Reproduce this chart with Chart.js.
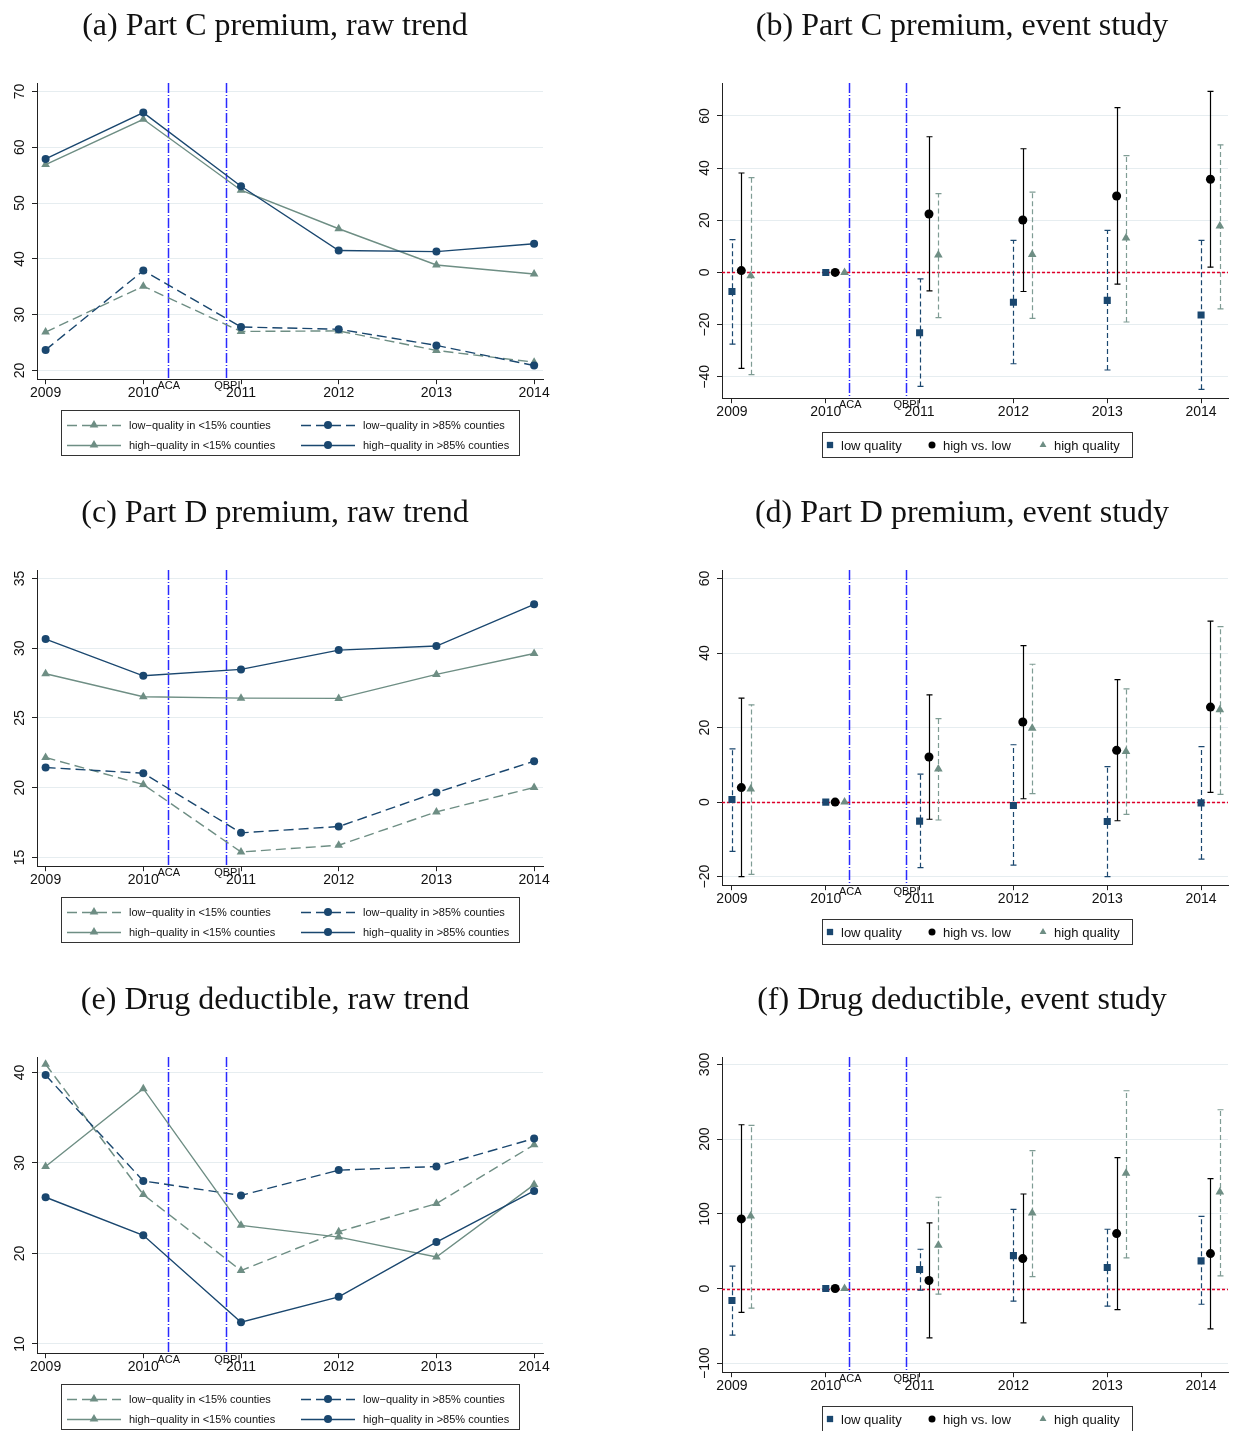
<!DOCTYPE html>
<html>
<head>
<meta charset="utf-8">
<script src="https://cdn.jsdelivr.net/npm/chart.js@4.4.1/dist/chart.umd.min.js"></script>
<style>
html, body { margin: 0; padding: 0; background: #fff; overflow: hidden; }
#wrap { position: relative; width: 1233px; height: 1431px; overflow: hidden; }
canvas { position: absolute; }
</style>
</head>
<body>
<div id="wrap">
  <canvas id="chartA" width="616" height="487" style="left:0;top:0"></canvas>
  <canvas id="chartB" width="617" height="487" style="left:616px;top:0"></canvas>
  <canvas id="chartC" width="616" height="487" style="left:0;top:487px"></canvas>
  <canvas id="chartD" width="617" height="487" style="left:616px;top:487px"></canvas>
  <canvas id="chartE" width="616" height="487" style="left:0;top:974px"></canvas>
  <canvas id="chartF" width="617" height="487" style="left:616px;top:974px"></canvas>
</div>
<script>
// ---- data ----
const years = [2009, 2010, 2011, 2012, 2013, 2014];
const rawLabels = ['low\u2212quality in <15% counties', 'low\u2212quality in >85% counties',
                   'high\u2212quality in <15% counties', 'high\u2212quality in >85% counties'];
const eventLabels = ['low quality', 'high vs. low', 'high quality'];
const policyLines = [2010.25, 2010.85];
const policyNames = ['ACA', 'QBPI'];

// (a) Part C premium, raw trend
const partCLowLt15 = [26.9, 35.1, 27.0, 27.1, 23.6, 21.5];
const partCLowGt85 = [23.7, 37.9, 27.8, 27.4, 24.5, 20.9];
const partCHighLt15 = [56.9, 65.0, 52.3, 45.4, 38.9, 37.3];
const partCHighGt85 = [57.9, 66.2, 53.0, 41.5, 41.3, 42.7];
const partCRawTicks = [20, 30, 40, 50, 60, 70];

// (b) Part C premium, event study
const partCLowEst = [-7.3, 0, -23.1, -11.4, -10.7, -16.3];
const partCLowLo = [-27.5, null, -43.7, -35.0, -37.4, -44.8];
const partCLowHi = [12.6, null, -2.5, 12.3, 16.1, 12.3];
const partCDiffEst = [0.7, 0, 22.4, 20.1, 29.3, 35.7];
const partCDiffLo = [-36.8, null, -7.1, -7.3, -4.5, 2.0];
const partCDiffHi = [38.1, null, 52.0, 47.4, 63.2, 69.4];
const partCHighEst = [-1.3, 0, 6.7, 6.9, 13.2, 17.8];
const partCHighLo = [-39.2, null, -17.3, -17.6, -19.0, -14.0];
const partCHighHi = [36.3, null, 30.2, 30.8, 44.8, 48.9];
const partCEventTicks = [-40, -20, 0, 20, 40, 60];

// (c) Part D premium, raw trend
const partDLowLt15 = [22.17, 20.23, 15.4, 15.88, 18.27, 20.02];
const partDLowGt85 = [21.45, 21.04, 16.77, 17.22, 19.66, 21.9];
const partDHighLt15 = [28.17, 26.52, 26.42, 26.4, 28.12, 29.62];
const partDHighGt85 = [30.65, 28.02, 28.48, 29.86, 30.15, 33.14];
const partDRawTicks = [15, 20, 25, 30, 35];

// (d) Part D premium, event study
const partDLowEst = [0.7, 0, -5.1, -0.9, -5.2, -0.2];
const partDLowLo = [-13.2, null, -17.6, -16.9, -20.0, -15.3];
const partDLowHi = [14.3, null, 7.5, 15.4, 9.5, 14.9];
const partDDiffEst = [3.9, 0, 12.1, 21.5, 13.9, 25.5];
const partDDiffLo = [-20.0, null, -4.6, 0.9, -5.0, 2.6];
const partDDiffHi = [27.9, null, 28.8, 42.0, 32.9, 48.6];
const partDHighEst = [3.5, 0, 8.9, 19.8, 13.6, 24.8];
const partDHighLo = [-19.4, null, -4.8, 2.3, -3.3, 2.1];
const partDHighHi = [26.1, null, 22.4, 37.0, 30.4, 47.1];
const partDEventTicks = [-20, 0, 20, 40, 60];

// (e) Drug deductible, raw trend
const dedLowLt15 = [40.9, 26.5, 18.1, 22.4, 25.5, 32.0];
const dedLowGt85 = [39.7, 28.0, 26.4, 29.2, 29.6, 32.7];
const dedHighLt15 = [29.6, 38.2, 23.1, 21.8, 19.6, 27.6];
const dedHighGt85 = [26.2, 22.0, 12.4, 15.2, 21.25, 26.9];
const dedRawTicks = [10, 20, 30, 40];

// (f) Drug deductible, event study
const dedLowEst = [-16, 0, 25.4, 44.1, 28.1, 37.0];
const dedLowLo = [-62.4, null, -2.2, -16.9, -23.6, -21.0];
const dedLowHi = [29.9, null, 52.6, 106.1, 79.4, 96.7];
const dedDiffEst = [93.2, 0, 10.7, 40.1, 73.6, 46.8];
const dedDiffLo = [-32.0, null, -66.0, -45.9, -28.1, -53.9];
const dedDiffHi = [219.3, null, 87.8, 126.6, 175.2, 147.1];
const dedHighEst = [97.2, 0, 58.0, 101.2, 154.3, 129.3];
const dedHighLo = [-26.3, null, -7.6, 16.0, 41.0, 16.9];
const dedHighHi = [218.4, null, 122.2, 184.6, 264.8, 239.4];
const dedEventTicks = [-100, 0, 100, 200, 300];

// ---- styles ----
const navy = '#1a476f';
const teal = '#6e8e84';
const axisCol = '#222';
const gridCol = '#e6edf0';
const tickFont = '"Liberation Sans", Arial, sans-serif';
const titleFont = '"Liberation Serif", "Times New Roman", serif';

function fmtNum(v) {
  return v < 0 ? '\u2212' + Math.abs(v) : String(v);
}

function drawMarker(ctx, style, x, y, r, color) {
  ctx.save();
  ctx.fillStyle = color;
  ctx.setLineDash([]);
  ctx.beginPath();
  if (style === 'circle') {
    ctx.arc(x, y, r, 0, Math.PI * 2);
  } else if (style === 'triangle') {
    ctx.moveTo(x, y - r);
    ctx.lineTo(x + r * 0.866, y + r * 0.5);
    ctx.lineTo(x - r * 0.866, y + r * 0.5);
    ctx.closePath();
  } else {
    ctx.rect(x - r * 0.7, y - r * 0.7, r * 1.4, r * 1.4);
  }
  ctx.fill();
  ctx.restore();
}

const panelDecor = {
  id: 'panelDecor',
  beforeDatasetsDraw(chart, args, opts) {
    const ctx = chart.ctx, a = chart.chartArea, x = chart.scales.x, y = chart.scales.y;
    ctx.save();
    ctx.strokeStyle = '#2a2aff';
    ctx.lineWidth = 1.5;
    ctx.setLineDash([10, 2, 1, 2]);
    policyLines.forEach(v => {
      const px = Math.round(x.getPixelForValue(v)) + 0.5;
      ctx.beginPath(); ctx.moveTo(px, a.top); ctx.lineTo(px, a.bottom); ctx.stroke();
    });
    if (opts.kind === 'event') {
      const py = Math.round(y.getPixelForValue(0)) + 0.5;
      ctx.strokeStyle = '#e0002a';
      ctx.lineWidth = 1.3;
      ctx.setLineDash([3, 2]);
      ctx.beginPath(); ctx.moveTo(a.left, py); ctx.lineTo(a.right, py); ctx.stroke();
      chart.data.datasets.forEach(ds => {
        ctx.strokeStyle = ds.ciColor;
        ctx.lineWidth = 1.2;
        ds.data.forEach((pt, i) => {
          if (ds.lo[i] == null) return;
          const px = Math.round(x.getPixelForValue(pt.x)) + 0.5;
          const p1 = y.getPixelForValue(ds.lo[i]);
          const p2 = y.getPixelForValue(ds.hi[i]);
          ctx.setLineDash(ds.ciDash);
          ctx.beginPath(); ctx.moveTo(px, p1); ctx.lineTo(px, p2); ctx.stroke();
          ctx.setLineDash([]);
          ctx.beginPath();
          ctx.moveTo(px - 3, p1); ctx.lineTo(px + 3, p1);
          ctx.moveTo(px - 3, p2); ctx.lineTo(px + 3, p2);
          ctx.stroke();
        });
      });
    }
    ctx.restore();
  },
  afterDraw(chart, args, opts) {
    const ctx = chart.ctx, a = chart.chartArea, x = chart.scales.x, y = chart.scales.y;
    ctx.save();
    // title
    ctx.fillStyle = '#111';
    ctx.font = '32px ' + titleFont;
    ctx.textAlign = 'center';
    ctx.textBaseline = 'alphabetic';
    ctx.fillText(opts.title, opts.titleX, 35);
    // rotated y labels
    ctx.font = '14px ' + tickFont;
    ctx.textBaseline = 'middle';
    y.ticks.forEach(t => {
      const py = y.getPixelForValue(t.value);
      ctx.save();
      ctx.translate(a.left - 17, py);
      ctx.rotate(-Math.PI / 2);
      ctx.fillText(fmtNum(t.value), 0, 0);
      ctx.restore();
    });
    // policy labels
    ctx.font = '11px ' + tickFont;
    ctx.textBaseline = 'top';
    policyLines.forEach((v, i) => {
      ctx.fillText(policyNames[i], x.getPixelForValue(v) + 1, a.bottom + 1);
    });
    // legend
    ctx.strokeStyle = '#333';
    ctx.lineWidth = 1;
    ctx.setLineDash([]);
    ctx.textAlign = 'left';
    ctx.textBaseline = 'middle';
    const dsets = chart.data.datasets;
    if (opts.kind === 'raw') {
      ctx.strokeRect(61.5, 410.5, 458, 45);
      ctx.font = '11px ' + tickFont;
      dsets.forEach((ds, i) => {
        const lx = [67, 301][i % 2];
        const ly = [425, 445][Math.floor(i / 2)];
        ctx.save();
        ctx.strokeStyle = ds.borderColor;
        ctx.lineWidth = 1.3;
        ctx.setLineDash(ds.borderDash);
        ctx.beginPath(); ctx.moveTo(lx, ly + 0.5); ctx.lineTo(lx + 54, ly + 0.5); ctx.stroke();
        ctx.restore();
        drawMarker(ctx, ds.pointStyle, lx + 27, ly, ds.pointRadius, ds.borderColor);
        ctx.fillStyle = '#111';
        ctx.fillText(ds.label, lx + 62, ly + 1);
      });
    } else {
      ctx.strokeRect(206.5, 432.5, 310, 25);
      ctx.font = '13px ' + tickFont;
      const mx = [214, 316, 427];
      dsets.forEach((ds, i) => {
        drawMarker(ctx, ds.pointStyle, mx[i], 445, ds.legendR, ds.pointBackgroundColor);
        ctx.fillStyle = '#111';
        ctx.fillText(ds.label, mx[i] + 11, 446);
      });
    }
    ctx.restore();
  }
};

function baseScales(xMin, xMax, yMin, yMax, yTicks) {
  return {
    x: {
      type: 'linear', min: xMin, max: xMax,
      afterBuildTicks: s => { s.ticks = years.map(v => ({ value: v })); },
      ticks: { callback: v => String(v), font: { family: tickFont, size: 14 }, color: '#111',
               padding: 1, maxRotation: 0, autoSkip: false },
      grid: { drawOnChartArea: false, drawTicks: true, tickLength: 5, tickColor: axisCol },
      border: { display: true, color: axisCol, width: 1 }
    },
    y: {
      type: 'linear', min: yMin, max: yMax,
      afterBuildTicks: s => { s.ticks = yTicks.map(v => ({ value: v })); },
      ticks: { display: false },
      grid: { color: gridCol, lineWidth: 1, drawTicks: true, tickLength: 5, tickColor: axisCol },
      border: { display: true, color: axisCol, width: 1 }
    }
  };
}

function rawChart(id, title, series, yMin, yMax, yTicks) {
  const looks = [
    { c: teal, dash: [10, 5], ps: 'triangle', r: 5 },
    { c: navy, dash: [10, 5], ps: 'circle', r: 4 },
    { c: teal, dash: [], ps: 'triangle', r: 5 },
    { c: navy, dash: [], ps: 'circle', r: 4 }
  ];
  new Chart(document.getElementById(id), {
    type: 'line',
    data: {
      datasets: series.map((vals, i) => ({
        label: rawLabels[i],
        data: years.map((yr, j) => ({ x: yr, y: vals[j] })),
        borderColor: looks[i].c,
        backgroundColor: looks[i].c,
        pointBackgroundColor: looks[i].c,
        pointBorderColor: looks[i].c,
        borderWidth: 1.4,
        borderDash: looks[i].dash,
        pointStyle: looks[i].ps,
        pointRadius: looks[i].r,
        pointBorderWidth: 0,
        tension: 0,
        order: 4 - i
      }))
    },
    options: {
      responsive: false, animation: false, devicePixelRatio: 1,
      layout: { padding: { left: 32, top: 83, right: 73, bottom: 84 } },
      scales: baseScales(2008.912, 2014.091, yMin, yMax, yTicks),
      plugins: { legend: { display: false }, tooltip: { enabled: false },
                 panelDecor: { kind: 'raw', title: title, titleX: 275 } }
    },
    plugins: [panelDecor]
  });
}

function eventChart(id, title, est, lo, hi, yMin, yMax, yTicks) {
  const looks = [
    { c: navy, ci: navy, dash: [5, 3], ps: 'rect', r: 5, lr: 4.5, off: 0 },
    { c: '#000', ci: '#000', dash: [], ps: 'circle', r: 4.5, lr: 3.5, off: 0.1 },
    { c: teal, ci: '#7f9c94', dash: [5, 3], ps: 'triangle', r: 5, lr: 4, off: 0.2 }
  ];
  new Chart(document.getElementById(id), {
    type: 'scatter',
    data: {
      datasets: est.map((vals, i) => ({
        label: eventLabels[i],
        data: years.map((yr, j) => ({ x: yr + looks[i].off, y: vals[j] })),
        lo: lo[i], hi: hi[i],
        ciColor: looks[i].ci, ciDash: looks[i].dash, legendR: looks[i].lr,
        showLine: false,
        pointStyle: looks[i].ps,
        pointRadius: looks[i].r,
        pointBorderWidth: 0,
        pointBackgroundColor: looks[i].c,
        backgroundColor: looks[i].c,
        order: 3 - i
      }))
    },
    options: {
      responsive: false, animation: false, devicePixelRatio: 1,
      layout: { padding: { left: 101, top: 83, right: 4, bottom: 65 } },
      scales: baseScales(2008.894, 2014.287, yMin, yMax, yTicks),
      plugins: { legend: { display: false }, tooltip: { enabled: false },
                 panelDecor: { kind: 'event', title: title, titleX: 346 } }
    },
    plugins: [panelDecor]
  });
}

rawChart('chartA', '(a) Part C premium, raw trend',
  [partCLowLt15, partCLowGt85, partCHighLt15, partCHighGt85], 18.45, 71.5, partCRawTicks);
eventChart('chartB', '(b) Part C premium, event study',
  [partCLowEst, partCDiffEst, partCHighEst], [partCLowLo, partCDiffLo, partCHighLo],
  [partCLowHi, partCDiffHi, partCHighHi], -48.2, 72.6, partCEventTicks);
rawChart('chartC', '(c) Part D premium, raw trend',
  [partDLowLt15, partDLowGt85, partDHighLt15, partDHighGt85], 14.38, 35.6, partDRawTicks);
eventChart('chartD', '(d) Part D premium, event study',
  [partDLowEst, partDDiffEst, partDHighEst], [partDLowLo, partDDiffLo, partDHighLo],
  [partDLowHi, partDDiffHi, partDHighHi], -22.3, 62.3, partDEventTicks);
rawChart('chartE', '(e) Drug deductible, raw trend',
  [dedLowLt15, dedLowGt85, dedHighLt15, dedHighGt85], 8.97, 41.7, dedRawTicks);
eventChart('chartF', '(f) Drug deductible, event study',
  [dedLowEst, dedDiffEst, dedHighEst], [dedLowLo, dedDiffLo, dedHighLo],
  [dedLowHi, dedDiffHi, dedHighHi], -112, 310, dedEventTicks);
</script>
</body>
</html>
